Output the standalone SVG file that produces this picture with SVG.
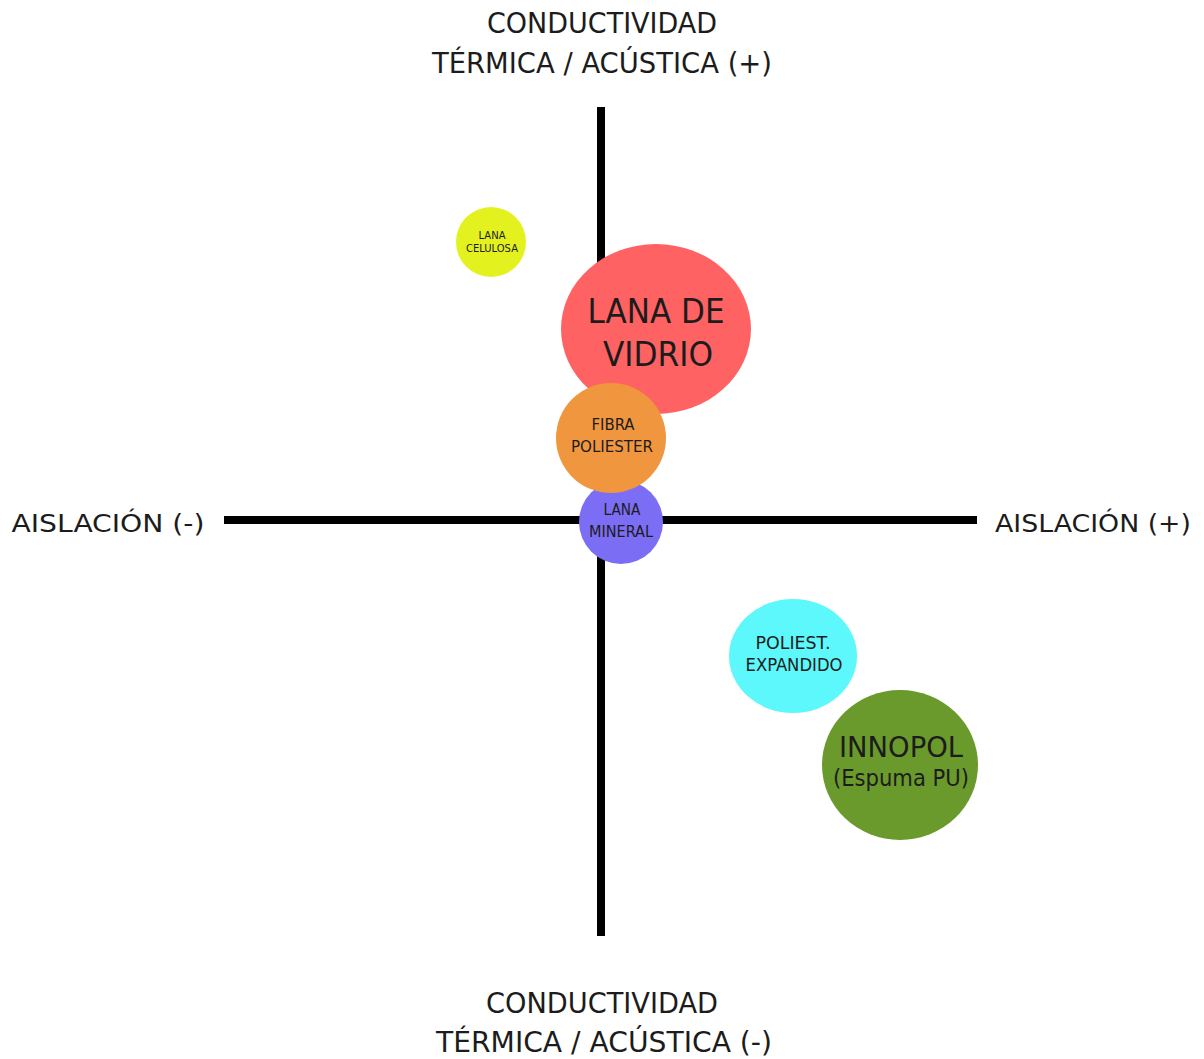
<svg xmlns="http://www.w3.org/2000/svg" width="1204" height="1059" viewBox="0 0 1204 1059">
  <style>
    text { font-family: "DejaVu Sans Condensed", "DejaVu Sans", sans-serif; fill: #1c1c1c; text-anchor: middle; }
    .axis { stroke: #000; stroke-width: 8; fill: none; }
    .title { font-size: 28.5px; }
    .side { font-size: 24px; }
  </style>
  <rect width="1204" height="1059" fill="#fff"/>

  <!-- axes -->
  <g id="connectors">
    <line class="axis" x1="601" y1="107" x2="601" y2="936"/>
    <line class="axis" x1="224" y1="520" x2="977" y2="520"/>
  </g>

  <!-- axis labels -->
  <g id="label-top">
    <text class="title" x="602" y="33" textLength="230" lengthAdjust="spacingAndGlyphs">CONDUCTIVIDAD</text>
    <text class="title" x="602" y="73" textLength="340" lengthAdjust="spacingAndGlyphs">TÉRMICA / ACÚSTICA (+)</text>
  </g>
  <g id="label-bottom">
    <text class="title" x="602" y="1013" textLength="232" lengthAdjust="spacingAndGlyphs">CONDUCTIVIDAD</text>
    <text class="title" x="604" y="1052" textLength="336" lengthAdjust="spacingAndGlyphs">TÉRMICA / ACÚSTICA (-)</text>
  </g>
  <g id="label-left">
    <text class="side" x="108" y="532" textLength="193" lengthAdjust="spacingAndGlyphs">AISLACIÓN (-)</text>
  </g>
  <g id="label-right">
    <text class="side" x="1093" y="532" textLength="196" lengthAdjust="spacingAndGlyphs">AISLACIÓN (+)</text>
  </g>

  <!-- materials -->
  <g id="lana-celulosa">
    <circle cx="491" cy="242" r="35" fill="#e3f21f"/>
    <text x="492" y="239" font-size="10" textLength="27" lengthAdjust="spacingAndGlyphs">LANA</text>
    <text x="492" y="252" font-size="10" textLength="52" lengthAdjust="spacingAndGlyphs">CELULOSA</text>
  </g>
  <g id="lana-de-vidrio">
    <ellipse cx="656" cy="329" rx="95" ry="85" fill="#ff6262"/>
    <text x="656" y="323" font-size="34" textLength="137" lengthAdjust="spacingAndGlyphs">LANA DE</text>
    <text x="658" y="366" font-size="34" textLength="110" lengthAdjust="spacingAndGlyphs">VIDRIO</text>
  </g>
  <g id="lana-mineral">
    <circle cx="621" cy="522" r="42" fill="#7b6ef5"/>
    <text x="622" y="515" font-size="15" textLength="37" lengthAdjust="spacingAndGlyphs">LANA</text>
    <text x="621" y="537" font-size="15" textLength="64" lengthAdjust="spacingAndGlyphs">MINERAL</text>
  </g>
  <g id="fibra-poliester">
    <circle cx="611" cy="438" r="55" fill="#f0963e"/>
    <text x="613" y="430" font-size="16" textLength="43" lengthAdjust="spacingAndGlyphs">FIBRA</text>
    <text x="612" y="452" font-size="16" textLength="82" lengthAdjust="spacingAndGlyphs">POLIESTER</text>
  </g>
  <g id="poliestireno-expandido">
    <ellipse cx="793" cy="656" rx="64" ry="57" fill="#5cf8fb"/>
    <text x="793" y="649" font-size="18" textLength="75" lengthAdjust="spacingAndGlyphs">POLIEST.</text>
    <text x="794" y="671" font-size="18" textLength="97" lengthAdjust="spacingAndGlyphs">EXPANDIDO</text>
  </g>
  <g id="innopol">
    <ellipse cx="900" cy="765" rx="78" ry="75" fill="#6a9a2c"/>
    <text x="901" y="757" font-size="28" textLength="124" lengthAdjust="spacingAndGlyphs">INNOPOL</text>
    <text x="901" y="786" font-size="23" textLength="136" lengthAdjust="spacingAndGlyphs">(Espuma PU)</text>
  </g>
</svg>
